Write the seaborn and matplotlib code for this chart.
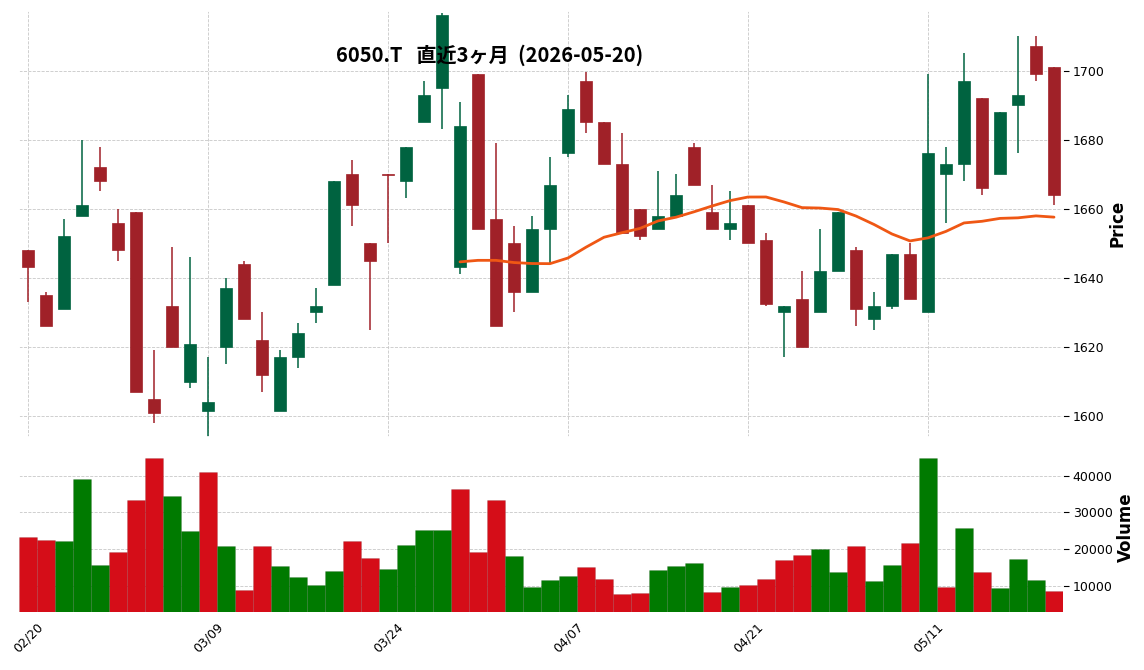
import numpy as np
import pandas as pd
import matplotlib
matplotlib.use("Agg")
import matplotlib.pyplot as plt
import seaborn as sns

# OHLC (58 trading days, 2026-02-20 .. 2026-05-20)
opens = [1648, 1635, 1631, 1658, 1672, 1656, 1659, 1605, 1632, 1610,
         1601.5, 1620, 1644, 1622, 1601.5, 1617, 1630, 1638, 1670, 1650,
         1670, 1668, 1685, 1695, 1643, 1699, 1657, 1650, 1636, 1654,
         1676, 1697, 1685, 1673, 1660, 1654, 1658, 1678, 1659, 1654,
         1661, 1651, 1630, 1634, 1630, 1642, 1648, 1628, 1632, 1647,
         1630, 1670, 1673, 1692, 1670, 1690, 1707, 1701]
highs = [1648, 1636, 1657, 1680, 1678, 1660, 1659, 1619, 1649, 1646,
         1617, 1640, 1645, 1630, 1619, 1627, 1637, 1668, 1674, 1650,
         1670, 1678, 1697, 1716.5, 1691, 1699, 1679, 1655, 1658, 1675,
         1693, 1699.5, 1685, 1682, 1660, 1671, 1670, 1679, 1667, 1665,
         1661, 1653, 1632, 1642, 1654, 1659, 1649, 1636, 1647, 1650,
         1699, 1678, 1705, 1692, 1688, 1710, 1710, 1701]
lows = [1633, 1626, 1631, 1658, 1665, 1645, 1607, 1598, 1620, 1608,
        1594, 1615, 1628, 1607, 1601.5, 1614, 1627, 1638, 1655, 1625,
        1650, 1663, 1685, 1683, 1641, 1654, 1626, 1630, 1636, 1644,
        1675, 1682, 1673, 1653, 1651, 1654, 1658, 1667, 1654, 1651,
        1650, 1632, 1617, 1620, 1630, 1642, 1626, 1625, 1631, 1634,
        1630, 1656, 1668, 1664, 1670, 1676, 1697, 1661]
closes = [1643, 1626, 1652, 1661, 1668, 1648, 1607, 1601, 1620, 1621,
          1604, 1637, 1628, 1612, 1617, 1624, 1632, 1668, 1661, 1645,
          1669.8, 1678, 1693, 1716, 1684, 1654, 1626, 1636, 1654, 1667,
          1689, 1685, 1673, 1653, 1652, 1658, 1664, 1667, 1654, 1656,
          1650, 1632.3, 1632, 1620, 1642, 1659, 1631, 1632, 1647, 1634,
          1676, 1673, 1697, 1666, 1688, 1693, 1699, 1664]
volumes = [23300, 22500, 22250, 39000, 15770, 19280, 33330, 44690, 34410, 24950,
           40900, 20900, 9010, 20900, 15500, 12520, 10360, 14140, 22250, 17660,
           14690, 21170, 25220, 25220, 36300, 19280, 33330, 18200, 9640, 11710,
           12790, 15220, 11980, 7930, 8200, 14410, 15500, 16310, 8470, 9640,
           10360, 11980, 17120, 18470, 20090, 13870, 20900, 11440, 15770, 21710,
           44690, 9640, 25770, 13870, 9370, 17390, 11710, 8740]
tick_idx = [0, 10, 20, 30, 40, 50]
tick_labels = ["02/20", "03/09", "03/24", "04/07", "04/21", "05/11"]
title = "6050.T   直近3ヶ月  (2026-05-20)"

df = pd.DataFrame({"Open": opens, "High": highs, "Low": lows,
                   "Close": closes, "Volume": volumes})
df["x"] = np.arange(len(df))
df["MA25"] = df["Close"].rolling(25).mean()
df["vdir"] = np.where(df["Close"].diff() > 0, "up", "down")

up_c, down_c = "#006340", "#a02128"
vol_up, vol_down = "#007a00", "#d50d18"

sns.set_theme(style="whitegrid", rc={
    "grid.linestyle": "--", "grid.color": "#c8c8c8", "grid.linewidth": 0.6,
    "axes.edgecolor": "white", "axes.facecolor": "white",
    "text.color": "black", "axes.labelcolor": "black",
    "xtick.color": "black", "ytick.color": "black"})
plt.rcParams["font.family"] = ["DejaVu Sans", "Noto Sans CJK JP"]

fig = plt.figure(figsize=(11.44, 6.70), dpi=100)
ax1 = fig.add_axes([0.0166, 0.348, 0.9126, 0.636])
ax2 = fig.add_axes([0.0166, 0.0866, 0.9126, 0.2537])

# candles
rising = df["Close"] >= df["Open"]
colors = np.where(rising, up_c, down_c)
ax1.vlines(df["x"], df["Low"], df["High"], colors=colors, linewidth=1.1, zorder=2)
body_h = (df["Close"] - df["Open"]).abs().clip(lower=0.3)
body_b = df[["Open", "Close"]].min(axis=1)
ax1.bar(df["x"], body_h, bottom=body_b, width=0.63, color=colors,
        edgecolor=colors, linewidth=0.5, zorder=3)
sns.lineplot(data=df, x="x", y="MA25", color="#ef5714", linewidth=2, ax=ax1, zorder=4)

ax1.set_xlim(-0.5, len(df) - 0.5)
ax1.set_ylim(1594, 1717.3)
ax1.set_yticks([1600, 1620, 1640, 1660, 1680, 1700])
ax1.set_xticks(tick_idx)
ax1.tick_params(axis="x", labelbottom=False, length=0)
ax1.yaxis.tick_right()
ax1.yaxis.set_label_position("right")
ax1.tick_params(axis="y", length=4, width=0.8, labelsize=9, pad=3)
ax1.set_xlabel("")
ax1.set_ylabel("Price", fontsize=12, fontweight="bold", labelpad=3)

# volume
sns.barplot(data=df, x="x", y="Volume", hue="vdir",
            palette={"up": vol_up, "down": vol_down}, dodge=False, width=1.0,
            saturation=1, legend=False, ax=ax2, zorder=3,
            edgecolor="#00000022", linewidth=0.5)
ax2.set_xlim(-0.5, len(df) - 0.5)
ax2.set_ylim(2930, 49170)
ax2.set_yticks([10000, 20000, 30000, 40000])
ax2.set_xticks(tick_idx)
ax2.set_xticklabels(tick_labels, rotation=45, ha="center")
ax2.yaxis.tick_right()
ax2.yaxis.set_label_position("right")
ax2.tick_params(axis="y", length=4, width=0.8, labelsize=9, pad=3)
ax2.tick_params(axis="x", length=3, width=0.8, labelsize=9, pad=3)
ax2.set_xlabel("")
ax2.set_ylabel("Volume", fontsize=12, fontweight="bold", labelpad=3)
ax2.set_axisbelow(True)
ax1.set_axisbelow(True)

fig.text(490 / 1144, 1 - 55 / 670, title, ha="center", va="center", color="black",
         fontsize=14.5, fontweight="bold", family=["Noto Sans CJK JP"])

fig.savefig("out.png", dpi=100)
